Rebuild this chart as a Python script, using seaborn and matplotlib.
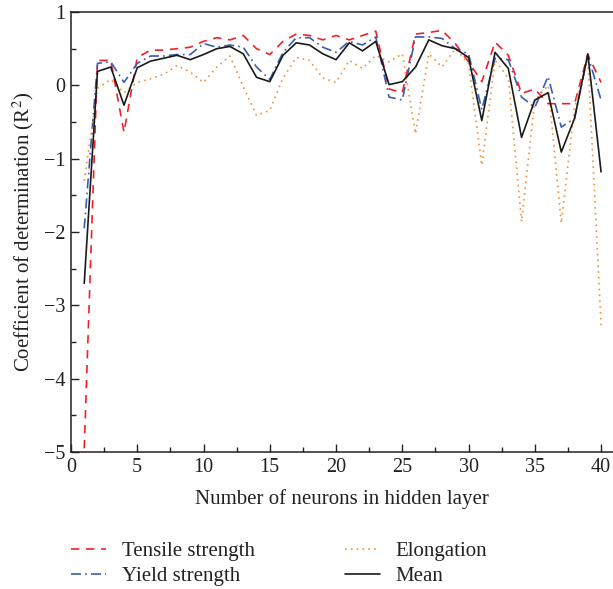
import numpy as np
import pandas as pd
import matplotlib
matplotlib.use("Agg")
import matplotlib.pyplot as plt
import seaborn as sns
from matplotlib.ticker import MultipleLocator

neurons = list(range(1, 41))
tensile = [-4.95, 0.34, 0.34, -0.64, 0.38, 0.48, 0.48, 0.50, 0.52, 0.60,
           0.65, 0.62, 0.68, 0.50, 0.42, 0.60, 0.70, 0.68, 0.62, 0.68,
           0.62, 0.68, 0.74, -0.05, -0.10, 0.70, 0.72, 0.75, 0.57, 0.32,
           0.05, 0.59, 0.41, -0.11, -0.05, -0.25, -0.25, -0.25, 0.42, 0.04]
yield_s = [-1.95, 0.30, 0.32, 0.04, 0.30, 0.40, 0.40, 0.42, 0.42, 0.57,
           0.52, 0.55, 0.52, 0.25, 0.08, 0.45, 0.65, 0.65, 0.52, 0.45,
           0.60, 0.55, 0.66, -0.16, -0.20, 0.66, 0.66, 0.64, 0.50, 0.43,
           -0.33, 0.37, 0.35, -0.16, -0.30, 0.12, -0.57, -0.45, 0.41, -0.20]
elong = [-1.30, -0.04, 0.08, -0.10, 0.04, 0.09, 0.15, 0.27, 0.18, 0.04,
         0.25, 0.40, -0.02, -0.41, -0.34, 0.10, 0.38, 0.34, 0.10, 0.04,
         0.34, 0.23, 0.41, 0.32, 0.43, -0.66, 0.43, 0.25, 0.50, 0.30,
         -1.09, 0.34, 0.10, -1.86, -0.20, 0.00, -1.88, -0.30, 0.38, -3.27]
mean = [-2.70, 0.19, 0.25, -0.27, 0.24, 0.33, 0.37, 0.41, 0.35, 0.42,
        0.50, 0.53, 0.43, 0.11, 0.05, 0.41, 0.58, 0.55, 0.43, 0.35,
        0.58, 0.47, 0.60, 0.01, 0.05, 0.25, 0.62, 0.54, 0.50, 0.38,
        -0.48, 0.45, 0.23, -0.71, -0.20, -0.10, -0.91, -0.45, 0.43, -1.18]

series_names = ["Tensile strength", "Yield strength", "Elongation", "Mean"]
series_vals = [tensile, yield_s, elong, mean]
colors = ["#f0202a", "#3a5cb0", "#f5913a", "#1a1a1a"]
dashes = [(5, 4), (6, 2.5, 1, 2.5), (1, 2.5), ""]

df = pd.concat([pd.DataFrame({"x": neurons, "y": v, "s": n})
                for n, v in zip(series_names, series_vals)], ignore_index=True)

sns.set_theme(style="white")
plt.rcParams["font.family"] = ["Liberation Serif", "DejaVu Serif"]
plt.rcParams["mathtext.fontset"] = "stix"
plt.rcParams["axes.unicode_minus"] = True

fig = plt.figure(figsize=(6.13, 5.89), dpi=100)
ax = fig.add_axes([0.1158, 0.2326, 0.8842, 0.747])

sns.lineplot(data=df, x="x", y="y", hue="s", style="s",
             palette=dict(zip(series_names, colors)),
             dashes=dict(zip(series_names, dashes)),
             hue_order=series_names, style_order=series_names,
             linewidth=1.2, ax=ax, legend=True)

ax.set_xlim(0, 40.9)
ax.set_ylim(-5, 1)
ax.xaxis.set_major_locator(MultipleLocator(5))
ax.xaxis.set_minor_locator(MultipleLocator(2.5))
ax.yaxis.set_major_locator(MultipleLocator(1))
ax.yaxis.set_minor_locator(MultipleLocator(0.5))
ax.tick_params(which="major", direction="in", length=6, width=1, labelsize=14.5,
               color="#222222", labelcolor="#222222", left=True, bottom=True, pad=4)
ax.tick_params(which="minor", direction="in", length=3.5, width=1,
               color="#222222", left=True, bottom=True)
for side in ["left", "bottom", "top"]:
    ax.spines[side].set_visible(True)
    ax.spines[side].set_color("#222222")
    ax.spines[side].set_linewidth(1.1)
ax.spines["right"].set_visible(False)

ax.set_xlabel("Number of neurons in hidden layer", fontsize=15, color="#222222", labelpad=9)
ax.set_ylabel("Coefficient of determination (R$^2$)", fontsize=15, color="#222222", labelpad=6)

handles, labels = ax.get_legend_handles_labels()
leg = ax.legend(handles, labels, loc="upper left", bbox_to_anchor=(0.0, -0.203),
                ncol=2, frameon=False, fontsize=15, handlelength=1.7,
                columnspacing=4.3, labelspacing=0.28, handletextpad=0.75,
                borderpad=0, borderaxespad=0)
for t in leg.get_texts():
    t.set_color("#222222")

fig.savefig("out.png", dpi=100)
